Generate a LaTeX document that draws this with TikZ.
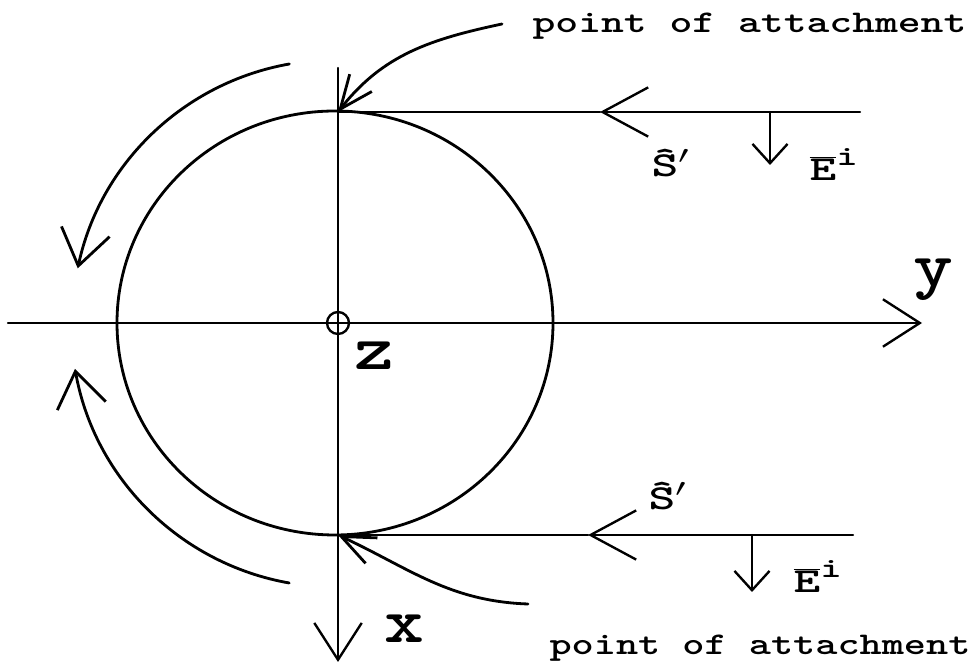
\documentclass[tikz,border=0pt]{standalone}
\usepackage{fontspec}
\usetikzlibrary{arrows.meta}
\newfontfamily\labfont{lmmonolt10-bold.otf}
\begin{document}
\begin{tikzpicture}[x=0.02cm,y=0.02cm,line join=round,line cap=round,line width=1.35pt,
    ax/.style={-{Straight Barb[length=21pt,width=27pt]}},
    ray/.style={-{Straight Barb[length=26pt,width=28pt]}},
    pol/.style={-{Straight Barb[length=11pt,width=20pt]}},
    att/.style={line width=1.6pt,-{Straight Barb[length=19pt,width=16pt]}},
    flow/.style={line width=1.6pt,-{Straight Barb[length=20pt,width=28pt]}},
    txt/.style={font=\labfont\fontsize{18}{18}\selectfont,anchor=base west,inner sep=0pt},
    lab/.style={font=\labfont\fontsize{20}{20}\selectfont,anchor=base west,inner sep=0pt,xscale=1.45},
    axlab/.style={font=\labfont\fontsize{36}{36}\selectfont,anchor=base west,inner sep=0pt,xscale=1.2}]
    \useasboundingbox (0,0) rectangle (973,665);
    \def\rx{218}
    \def\ry{212}
    \coordinate (C) at (335,342);
    \coordinate (O) at (338,342);
    \coordinate (T) at (338,553);
    \coordinate (B) at (338,130);
    % axes
    \draw[ax] (8,342) coordinate (Yl) -- (922,342) coordinate (Yr);
    \draw[ax] (338,597) coordinate (Xt) -- (338,3) coordinate (Xb);
    \draw (O) circle (11);
    \draw[line width=1.6pt] (C) ellipse ({\rx} and {\ry});
    % incident rays
    \coordinate (R1) at (860,553); \coordinate (M1) at (600,553);
    \coordinate (R2) at (853,130); \coordinate (M2) at (588,130);
    \draw[ray] (R1) -- (M1); \draw (M1) -- (T);
    \draw[ray] (R2) -- (M2); \draw (M2) -- (B);
    \draw[pol] (770,553) -- (770,500);
    \draw[pol] (752,130) -- (752,73);
    % attachment points
    \coordinate (P1) at (502,641); \coordinate (P2) at (528,61);
    \draw[att] (P1) to[out=192,in=52] (T);
    \draw[att] (P2) to[out=178,in=-25] (B);
    % creeping waves
    \draw[flow] (C) ++(100:263) arc (100:168:263);
    \draw[flow] (C) ++(260:264) arc (260:190:264);
    % labels
    \node[txt,xscale=1.375] (att1) at (531,632) {point of attachment};
    \node[txt,xscale=1.334] (att2) at (548,10) {point of attachment};
    \node[lab] (s1) at (650,488) {\^S$'$};
    \node[lab] (e1) at (808,484) {$\overline{\mbox{E}}^{\mbox{\fontsize{16}{16}\selectfont i}}$};
    \node[lab] (s2) at (647,155) {\^S$'$};
    \node[lab] (e2) at (792,72) {$\overline{\mbox{E}}^{\mbox{\fontsize{16}{16}\selectfont i}}$};
    \node[axlab] (xl) at (383,22) {x};
    \node[axlab] (zl) at (353,295) {z};
    \node[axlab] (yl) at (912,378) {y};
\end{tikzpicture}
\end{document}
